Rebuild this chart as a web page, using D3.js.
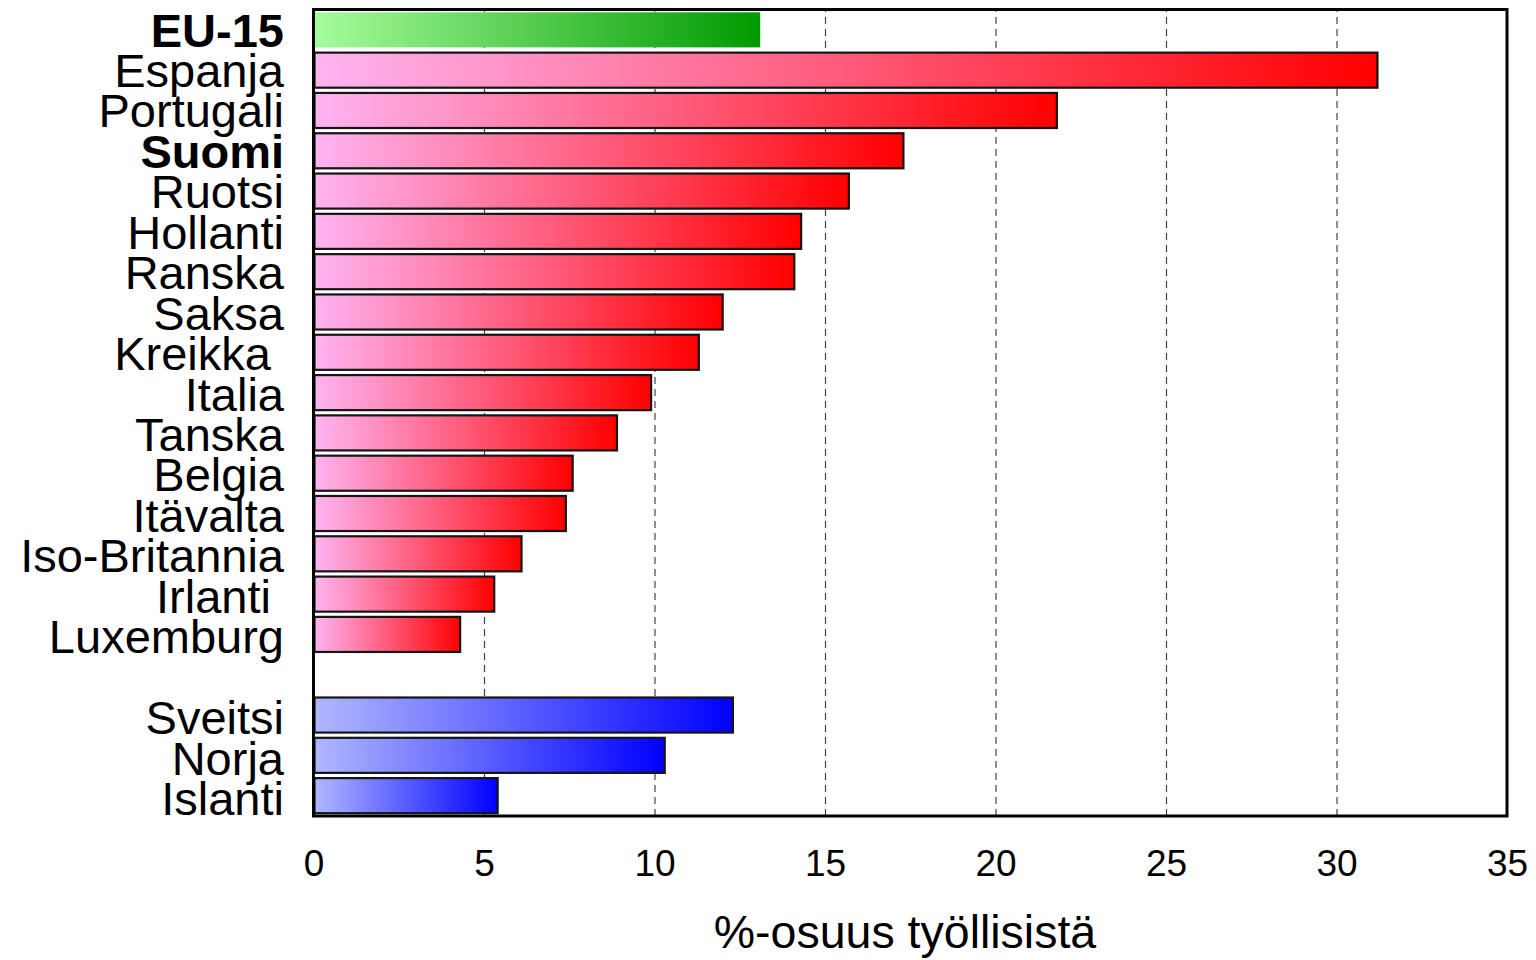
<!DOCTYPE html>
<html>
<head>
<meta charset="utf-8">
<script src="https://cdn.jsdelivr.net/npm/d3@7"></script>
<style>
  html, body { margin: 0; padding: 0; background: #fff; }
  svg { display: block; }
  text { font-family: "Liberation Sans", Arial, Helvetica, sans-serif; fill: #000; }
</style>
</head>
<body>
<svg id="chart" width="1536" height="960"></svg>
<script>
// ---- data ----
const categories = ["EU-15", "Espanja", "Portugali", "Suomi", "Ruotsi", "Hollanti", "Ranska",
  "Saksa", "Kreikka", "Italia", "Tanska", "Belgia", "Itävalta", "Iso-Britannia", "Irlanti",
  "Luxemburg", "", "Sveitsi", "Norja", "Islanti"];
const values = [13.1, 31.2, 21.8, 17.3, 15.7, 14.3, 14.1, 12.0, 11.3, 9.9, 8.9, 7.6, 7.4, 6.1,
  5.3, 4.3, null, 12.3, 10.3, 5.4];
const groups = ["eu", "member", "member", "member", "member", "member", "member", "member",
  "member", "member", "member", "member", "member", "member", "member", "member", "gap",
  "other", "other", "other"];
const boldLabels = ["EU-15", "Suomi"];
const trailingSpace = ["Kreikka", "Irlanti"];
const xTicks = [0, 5, 10, 15, 20, 25, 30, 35];
const xTitle = "%-osuus työllisistä";

// ---- layout ----
const svg = d3.select("#chart");
const pLeft = 313.5, pRight = 1507, pTop = 9.5, pBottom = 816;

const x = d3.scaleLinear().domain([0, 35]).range([pLeft, pRight]);
const keys = categories.map((c, i) => i);
const y = d3.scaleBand().domain(keys).range([pTop, pBottom]).paddingInner(0.13).paddingOuter(0.07);
// label baselines (labels drift slightly relative to the bars in the original)
const yLabel = d3.scaleLinear().domain([0, categories.length - 1]).range([46.5, 815]);

// gradients
const defs = svg.append("defs");
const grads = {
  eu: ["#a6fc9c", "#009a00"],
  member: ["#ffb4f2", "#ff0000"],
  other: ["#b0b8ff", "#0000ff"]
};
Object.entries(grads).forEach(([k, [c0, c1]]) => {
  const g = defs.append("linearGradient").attr("id", "g-" + k)
    .attr("x1", "0%").attr("x2", "100%").attr("y1", "0%").attr("y2", "0%");
  g.append("stop").attr("offset", "0%").attr("stop-color", c0);
  g.append("stop").attr("offset", "100%").attr("stop-color", c1);
});

// gridlines
const grid = svg.append("g")
  .attr("transform", `translate(0,${pBottom})`)
  .call(d3.axisBottom(x).tickValues(xTicks.filter(t => t > 0 && t < 35))
    .tickSize(-(pBottom - pTop)).tickFormat(""));
grid.select(".domain").remove();
grid.selectAll("line").attr("stroke", "#444").attr("stroke-width", 1.2)
  .attr("stroke-dasharray", "7,5");

// bars
const data = categories.map((c, i) => ({ c, v: values[i], g: groups[i], i }))
  .filter(d => d.v !== null);

svg.append("g").selectAll("rect").data(data).join("rect")
  .attr("x", x(0) + 1)
  .attr("y", d => y(d.i))
  .attr("width", d => x(d.v) - x(0) - 1)
  .attr("height", y.bandwidth())
  .attr("fill", d => `url(#g-${d.g})`)
  .attr("stroke", d => d.g === "eu" ? "none" : "#151515")
  .attr("stroke-width", 2.2);

// frame
svg.append("rect")
  .attr("x", pLeft).attr("y", pTop)
  .attr("width", pRight - pLeft).attr("height", pBottom - pTop)
  .attr("fill", "none").attr("stroke", "#000").attr("stroke-width", 3);

// category labels
svg.append("g").selectAll("text").data(data).join("text")
  .attr("x", 284)
  .attr("y", d => yLabel(d.i))
  .attr("text-anchor", "end")
  .attr("font-size", 47)
  .attr("font-weight", d => boldLabels.includes(d.c) ? "bold" : "normal")
  .style("white-space", "pre")
  .text(d => trailingSpace.includes(d.c) ? d.c + " " : d.c);

// x axis tick labels
const xAxis = svg.append("g")
  .attr("transform", `translate(0,${pBottom})`)
  .call(d3.axisBottom(x).tickValues(xTicks).tickSize(0).tickPadding(0).tickFormat(d3.format("d")));
xAxis.select(".domain").remove();
xAxis.selectAll("text")
  .attr("font-size", 37)
  .attr("font-family", "Liberation Sans, Arial, sans-serif")
  .attr("fill", "#000")
  .attr("dy", null)
  .attr("y", 60);

// x title
svg.append("text")
  .attr("x", 905).attr("y", 948)
  .attr("text-anchor", "middle")
  .attr("font-size", 46.5)
  .text(xTitle);
</script>
</body>
</html>
